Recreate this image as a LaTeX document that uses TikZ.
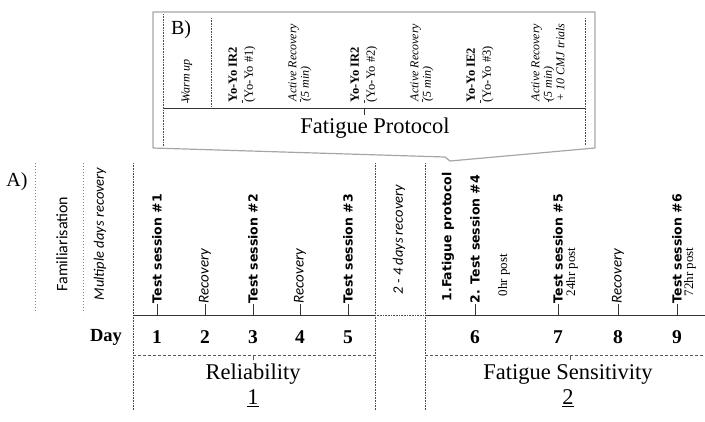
\documentclass[tikz,border=0pt]{standalone}
\usepackage{fontspec}
\setmainfont{Liberation Serif}
\setsansfont{DejaVu Sans}
\newfontfamily\calibri{Carlito}

\tikzset{
	dotline/.style={gray!60!black, line width=1pt, dash pattern=on 0.8pt off 0.8pt},
	lightdot/.style={gray, line width=0.8pt, dash pattern=on 1pt off 2pt},
	dashline/.style={gray!70!black, line width=0.7pt, dash pattern=on 3pt off 2pt},
	axisline/.style={black!80, line width=0.9pt},
	upright/.style={rotate=90, anchor=west, inner sep=0.5pt},
	session/.style={upright, font=\sffamily\bfseries\fontsize{12.5}{14}\selectfont},
	rest/.style={upright, font=\calibri\itshape\fontsize{15}{17}\selectfont},
	hours/.style={upright, font=\fontsize{13}{14}\selectfont},
	daynum/.style={font=\bfseries\fontsize{19.5}{22}\selectfont},
	phase/.style={font=\fontsize{22.5}{25}\selectfont},
	yoyo/.style={upright, align=left, font=\fontsize{12.5}{16}\selectfont},
	active/.style={upright, align=left, font=\itshape\fontsize{12}{12.5}\selectfont},
	callout/.style={gray!70, line width=1.2pt, line join=round},
	panel/.style={font=\fontsize{20}{22}\selectfont},
}

\begin{document}
\begin{tikzpicture}[x=1pt,y=-1pt]
	%\draw[help lines,step=50] (0,0) grid (705,421);
	\useasboundingbox (0,0) rectangle (705,421);

	% B) fatigue protocol box
	\draw[callout] (153,12) -- (595,12) -- (595,148) -- (450,161) -- (445,157) -- (153,148) -- cycle;
	\node[panel] (lblB) at (181,30) {B)};
	\foreach \i/\x in {1/187,2/242,3/300,4/364,5/422,6/480,7/548}
		\coordinate (b\i) at (\x,108);
	\coordinate (bl) at (163,108);
	\coordinate (br) at (585,108);
	\draw[axisline] (bl) -- (br);
	\draw[dotline] (163,14) -- (163,146);
	\draw[dotline] (211,18) -- (211,108);
	\draw[dotline] (585,18) -- (585,146);
	\node[active] (warm) at ([yshift=5pt]b1) {Warm up};
	\node[yoyo] (yy1) at ([yshift=5pt]b2) {\textbf{Yo-Yo IR2}\\(Yo-Yo \#1)};
	\node[active] (ar1) at ([yshift=6pt]b3) {Active Recovery\\(5 min)};
	\node[yoyo] (yy2) at ([yshift=5pt]b4) {\textbf{Yo-Yo IR2}\\(Yo-Yo \#2)};
	\node[active] (ar2) at ([yshift=6pt]b5) {Active Recovery\\(5 min)};
	\node[yoyo] (yy3) at ([yshift=5pt]b6) {\textbf{Yo-Yo IE2}\\(Yo-Yo \#3)};
	\node[active] (ar3) at ([yshift=6pt]b7) {Active Recovery\\(5 min)\\+ 10 CMJ trials};
	\foreach \n in {warm,yy1,ar1,yy2,ar2,yy3,ar3}
		\draw[axisline, line width=0.6pt] (\n.west) -- ++(0,-3);
	\coordinate (fp) at (364,115);
	\draw[axisline] (b4) -- (fp);
	\node[phase] (prot) at (375,128) {Fatigue Protocol};

	% A) timeline
	\node[panel] (lblA) at (17,182) {A)};
	\draw[lightdot] (35,163) -- (35,313);
	\draw[lightdot] (83,163) -- (83,313);
	\node[rotate=90, font=\calibri\fontsize{16}{18}\selectfont] (fam) at (62,244) {Familiarisation};
	\node[upright, font=\calibri\itshape\fontsize{14.5}{16}\selectfont] (multi) at (100,301) {Multiple days recovery};
	\node[font=\bfseries\fontsize{18.5}{21}\selectfont] (day) at (106,337) {Day};

	\foreach \x in {133,375,425}
		\draw[dotline] (\x,163) -- (\x,410);
	\coordinate (a0) at (133,315);
	\coordinate (a1) at (375,315);
	\coordinate (a2) at (425,315);
	\coordinate (a3) at (705,315);
	\draw[axisline] (a0) -- (a1);
	\draw[dotline] (a1) -- (a2);
	\draw[axisline] (a2) -- (a3);

	\foreach \d/\x in {1/157,2/205,3/253,4/300,5/348,6/475,7/558,8/618,9/677}{
		\coordinate (t\d) at (\x,315);
		\node[daynum] (n\d) at (\x,337) {\d};
	}
	\foreach \d/\txt in {1/Test session \#1,3/Test session \#2,5/Test session \#3,6/2. Test session \#4,7/Test session \#5,9/Test session \#6}{
		\node[session] (s\d) at ([yshift=11pt]t\d) {\txt};
		\draw[axisline] (t\d) -- (s\d.west);
	}
	\foreach \d in {2,4,8}{
		\node[rest] (s\d) at ([yshift=11pt]t\d) {Recovery};
		\draw[axisline] (t\d) -- (s\d.west);
	}
	\node[session] (fat) at (448,302) {1.Fatigue protocol};
	\node[hours] (h0) at ([xshift=29pt, yshift=18pt]t6) {0hr post};
	\node[hours] (h24) at ([xshift=14pt, yshift=18pt]t7) {24hr post};
	\node[hours] (h72) at ([xshift=13pt, yshift=18pt]t9) {72hr post};
	\node[upright, font=\calibri\itshape\fontsize{14.5}{16}\selectfont] (gap) at (399,295) {2 - 4 days recovery};

	% phases
	\coordinate (r0) at (133,355);
	\coordinate (r1) at (375,355);
	\coordinate (f0) at (425,355);
	\coordinate (f1) at (705,355);
	\draw[dashline] (r0) -- (r1);
	\draw[dashline] (f0) -- (f1);
	\coordinate (rm) at (253,355);
	\coordinate (fm) at (570,355);
	\node[phase] (rel) at (253,374) {Reliability};
	\node[phase] (fs) at (568,374) {Fatigue Sensitivity};
	\draw[dashline, dash pattern=] (rm) -- ([yshift=-5pt]rm);
	\draw[dashline, dash pattern=] (fm) -- ([yshift=-5pt]fm);
	\node[phase] (one) at (253,398) {\underline{1}};
	\node[phase] (two) at (568,398) {\underline{2}};
\end{tikzpicture}
\end{document}
